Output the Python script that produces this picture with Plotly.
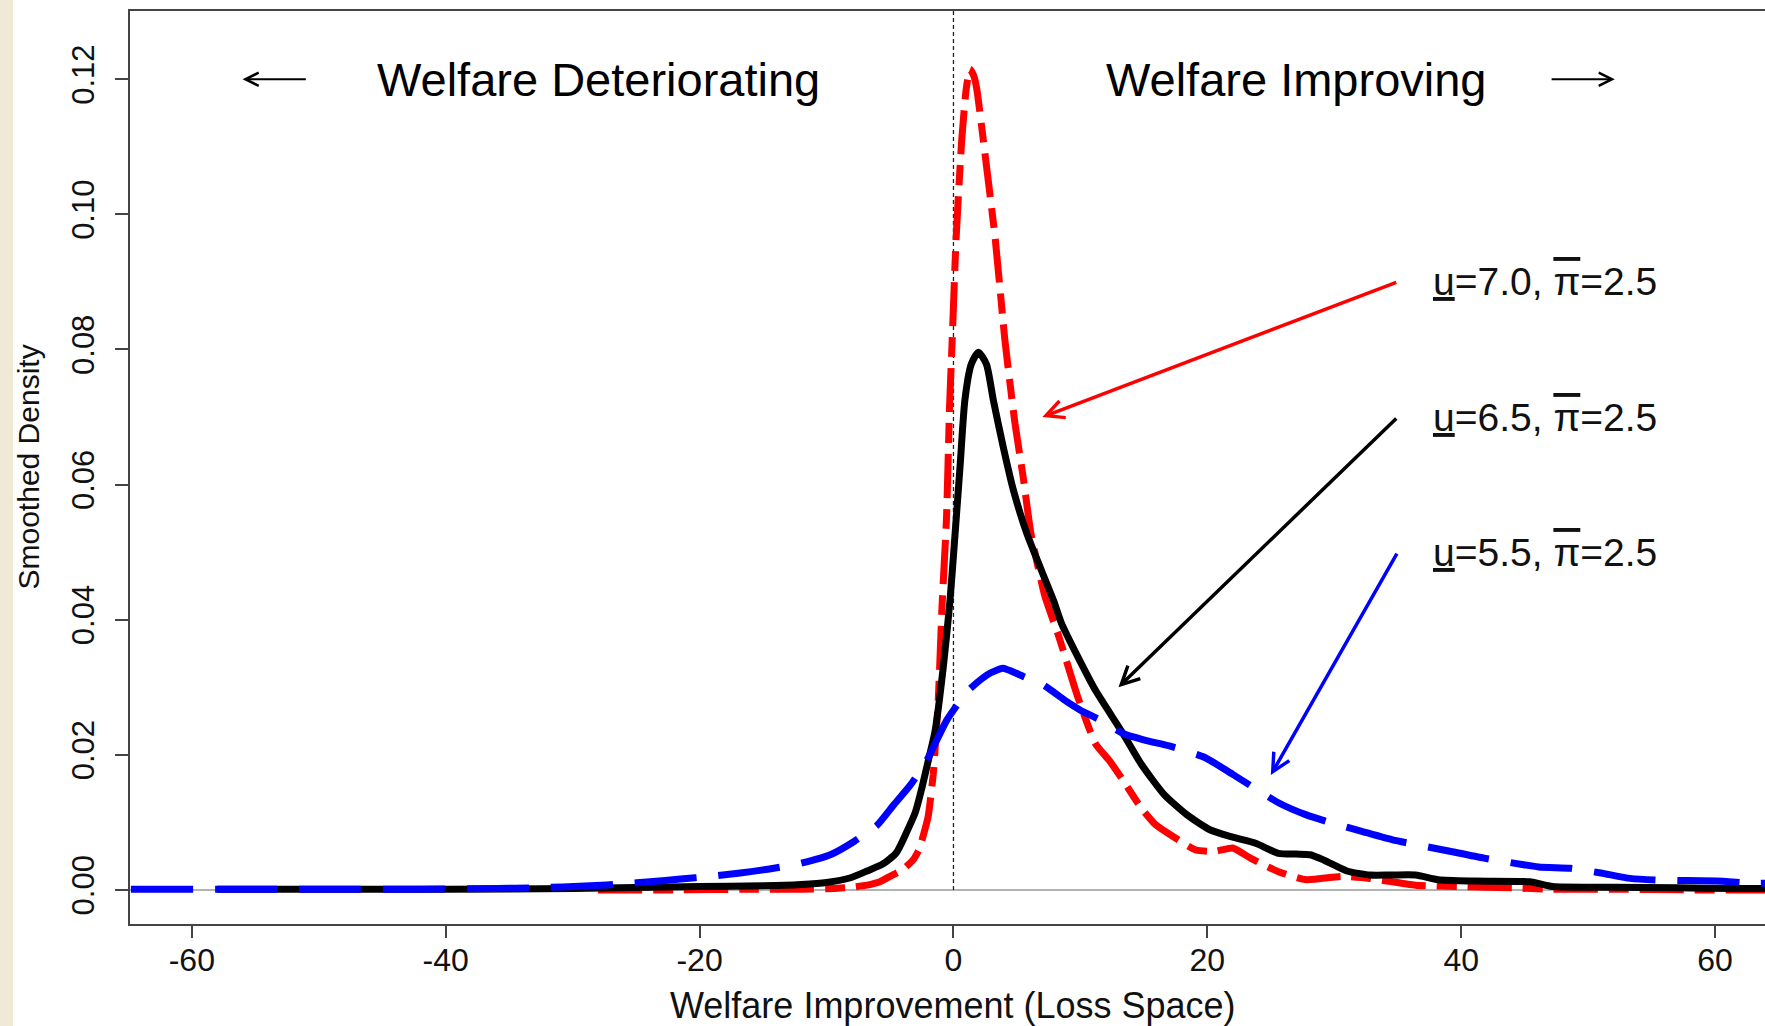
import plotly.graph_objects as go

# ---------------- data ----------------
x_ticks = [-60, -40, -20, 0, 20, 40, 60]
x_ticklabels = ["-60", "-40", "-20", "0", "20", "40", "60"]
y_ticks = [0.0, 0.02, 0.04, 0.06, 0.08, 0.10, 0.12]
y_ticklabels = ["0.00", "0.02", "0.04", "0.06", "0.08", "0.10", "0.12"]

# u = 7.0 (red, dashed)
red_x = [-28, -22, -16, -12, -9.5, -8, -6.8, -5.8, -5.0, -4.0, -3.2, -2.7, -2.4, -2.0,
         -1.6, -1.2, -0.9, -0.55, -0.3, -0.1, 0.2, 0.65, 1.0, 1.3, 1.6, 1.85, 2.35, 3.3,
         4.05, 4.85, 5.5, 6.1, 7.2, 8.3, 9.8, 11.2, 12.3, 13.4, 14.8, 15.9, 17.3, 19.1,
         20.6, 22.0, 23.4, 25.6, 27.8, 30.6, 32.8, 36.4, 40.0, 44.0, 47.0, 52.0, 58.0, 64.0]
red_y = [0.0, 0.0, 0.0001, 0.0001, 0.0002, 0.0004, 0.0007, 0.0012, 0.002, 0.003, 0.0044,
         0.006, 0.0079, 0.0108, 0.017, 0.028, 0.042, 0.055, 0.072, 0.0814, 0.0962, 0.111,
         0.1185, 0.1215, 0.1205, 0.1184, 0.111, 0.0962, 0.0814, 0.069, 0.061, 0.0528,
         0.0435, 0.0375, 0.0285, 0.0216, 0.0191, 0.0161, 0.0121, 0.0097, 0.0079, 0.0059,
         0.0057, 0.0062, 0.0047, 0.0027, 0.0015, 0.0020, 0.0017, 0.0007, 0.0005, 0.0003,
         0.0001, 0.0001, 0.0, 0.0]

# u = 6.5 (black, solid)
black_x = [-58, -50, -40, -30, -20, -15, -12, -10, -8.1, -6.8, -5.5, -4.5, -3.7, -3.0,
           -2.5, -2.0, -1.45, -0.8, -0.27, 0.13, 0.52, 0.9, 1.4, 1.96, 2.6, 3.14, 3.93,
           4.72, 5.77, 6.82, 7.87, 8.5, 9.8, 11.2, 13.37, 14.8, 16.6, 18.4, 20.2, 22.0,
           23.8, 25.6, 27.0, 28.1, 29.2, 31.0, 32.8, 34.5, 36.4, 38.2, 41.0, 45.4, 47.2,
           52.0, 57.0, 61.6, 64.0]
black_y = [0.0001, 0.0001, 0.0001, 0.0002, 0.0005, 0.0006, 0.0008, 0.0011, 0.0018, 0.0028,
           0.0039, 0.0055, 0.0085, 0.0115, 0.015, 0.019, 0.0235, 0.033, 0.0429, 0.0528,
           0.0627, 0.0725, 0.0778, 0.0796, 0.0778, 0.0725, 0.0655, 0.0592, 0.0528, 0.0478,
           0.0429, 0.0395, 0.0345, 0.0295, 0.0231, 0.0186, 0.0141, 0.0111, 0.0089, 0.0078,
           0.0069, 0.0054, 0.0053, 0.0052, 0.0044, 0.0028, 0.0022, 0.0022, 0.0022, 0.0015,
           0.0013, 0.0012, 0.0005, 0.0004, 0.0003, 0.0002, 0.0002]

# u = 5.5 (blue, long dash)
blue_x = [-64.8, -58, -50, -42, -36, -33, -28.6, -26, -23.9, -21.5, -19.2, -16.8, -14.5,
          -12.1, -9.7, -7.8, -6.0, -4.7, -3.4, -2.1, -0.5, 1.2, 2.9, 3.9, 5.5, 7.1, 8.9,
          10.0, 11.7, 13.4, 15.2, 17.0, 19.8, 22.0, 25.6, 27.8, 30.0, 32.1, 34.6, 38.9,
          41.8, 46.1, 48.6, 51.0, 53.3, 55.4, 60.1, 63.0, 63.93]
blue_y = [0.0001, 0.0001, 0.0001, 0.0001, 0.0002, 0.0003, 0.0006, 0.0009, 0.0012, 0.0016,
          0.002, 0.0025, 0.0031, 0.0039, 0.0052, 0.0072, 0.0096, 0.0126, 0.0155, 0.0192,
          0.0252, 0.0296, 0.0321, 0.0328, 0.0316, 0.0303, 0.0279, 0.0266, 0.025, 0.0231,
          0.0221, 0.0213, 0.0196, 0.0171, 0.0129, 0.0111, 0.0098, 0.0087, 0.0074, 0.0058,
          0.0047, 0.0034, 0.0032, 0.0025, 0.0017, 0.00145, 0.0013, 0.001, 0.001]

series_labels = ["<u>u</u>=7.0, <span style='text-decoration:overline'>π</span>=2.5",
                 "<u>u</u>=6.5, <span style='text-decoration:overline'>π</span>=2.5",
                 "<u>u</u>=5.5, <span style='text-decoration:overline'>π</span>=2.5"]
label_y = [0.09, 0.07, 0.05]
arrow_heads = [(7, 0.07), (13, 0.03), (25, 0.017)]
series_colors = ["#FF0000", "#000000", "#0000FF"]

# ---------------- layout geometry ----------------
W, H = 1765, 1026
ML, MR, MT, MB = 130, 0, 11, 102
x_range = [-64.87, 63.93]
y_range = [-0.00505, 0.1301]
FONT = "Liberation Sans, Arial, sans-serif"

fig = go.Figure()
fig.add_trace(go.Scatter(x=red_x, y=red_y, mode="lines",
                         line=dict(color="#FF0000", width=7, dash="44px,11px,20px,11px",
                                   shape="spline", smoothing=0.5), showlegend=False))
fig.add_trace(go.Scatter(x=black_x, y=black_y, mode="lines",
                         line=dict(color="#000000", width=7, shape="spline", smoothing=0.6),
                         showlegend=False))
fig.add_trace(go.Scatter(x=blue_x, y=blue_y, mode="lines",
                         line=dict(color="#0000FF", width=7, dash="62px,22px",
                                   shape="spline", smoothing=0.5), showlegend=False))

pw = W - ML - MR
ph = H - MT - MB
shapes = [
    # beige strip at the left edge of the slide
    dict(type="rect", xref="paper", yref="paper", x0=-ML / pw, x1=(13 - ML) / pw,
         y0=-MB / ph - 0.1, y1=1 + MT / ph + 0.1, fillcolor="#EFE9D6", line=dict(width=0)),
    # y = 0 reference line
    dict(type="line", xref="paper", yref="y", x0=0, x1=1, y0=0, y1=0,
         line=dict(color="#9A9A9A", width=1.5), layer="below"),
    # x = 0 dotted line
    dict(type="line", xref="x", yref="y", x0=0, x1=0, y0=0, y1=y_range[1],
         line=dict(color="#222222", width=1.3, dash="4px,3px"), layer="below"),
]

annotations = []
for txt, ly, (hx, hy), col in zip(series_labels, label_y, arrow_heads, series_colors):
    annotations.append(dict(x=46.6, y=ly, xref="x", yref="y", text=txt, showarrow=False,
                            xanchor="center", yanchor="middle",
                            font=dict(family=FONT, size=39, color="#111111")))
    annotations.append(dict(x=hx, y=hy, ax=35, ay=ly, xref="x", yref="y", axref="x",
                            ayref="y", text="", showarrow=True, arrowhead=5, arrowsize=1.0,
                            arrowwidth=3.5, arrowcolor=col, standoff=0))

annotations += [
    dict(x=-28, y=0.12, xref="x", yref="y", text="Welfare Deteriorating", showarrow=False,
         font=dict(family=FONT, size=47, color="#000000")),
    dict(x=27, y=0.12, xref="x", yref="y", text="Welfare Improving", showarrow=False,
         font=dict(family=FONT, size=47, color="#000000")),
    dict(x=-56.0, y=0.12, ax=-50.9, ay=0.12, xref="x", yref="y", axref="x", ayref="y",
         text="", showarrow=True, arrowhead=5, arrowsize=1.3, arrowwidth=2,
         arrowcolor="#000000", standoff=0),
    dict(x=52.1, y=0.12, ax=47.0, ay=0.12, xref="x", yref="y", axref="x", ayref="y",
         text="", showarrow=True, arrowhead=5, arrowsize=1.3, arrowwidth=2,
         arrowcolor="#000000", standoff=0),
    # axis titles
    dict(x=0, y=0, xref="x", yref="paper", yshift=-81, text="Welfare Improvement (Loss Space)",
         showarrow=False, xanchor="center", yanchor="middle",
         font=dict(family=FONT, size=36, color="#111111")),
    dict(x=0, y=0.5, xref="paper", yref="paper", xshift=-102, text="Smoothed Density",
         showarrow=False, textangle=-90, xanchor="center", yanchor="middle",
         font=dict(family=FONT, size=30, color="#111111")),
]

fig.update_layout(
    width=W, height=H,
    margin=dict(l=ML, r=MR, t=MT, b=MB, pad=0),
    paper_bgcolor="#FFFFFF", plot_bgcolor="#FFFFFF",
    shapes=shapes, annotations=annotations, showlegend=False,
    xaxis=dict(range=x_range, tickvals=x_ticks, ticktext=x_ticklabels, ticks="outside",
               ticklen=12, tickwidth=1.5, tickcolor="#444444", showline=True,
               linecolor="#444444", linewidth=1.5, mirror=True, showgrid=False,
               zeroline=False, ticklabelstandoff=-5,
               tickfont=dict(family=FONT, size=32, color="#111111")),
    yaxis=dict(range=y_range, tickvals=y_ticks, ticktext=y_ticklabels, ticks="outside",
               ticklen=13, tickwidth=1.5, tickcolor="#444444", showline=True,
               linecolor="#444444", linewidth=1.5, mirror=False, showgrid=False,
               zeroline=False, tickangle=-90, ticklabelstandoff=9,
               tickfont=dict(family=FONT, size=31, color="#111111")),
)

fig.write_html(
    "out.html",
    config={"displayModeBar": False},
    post_script="document.body.style.margin='0';document.body.style.overflow='hidden';",
)
